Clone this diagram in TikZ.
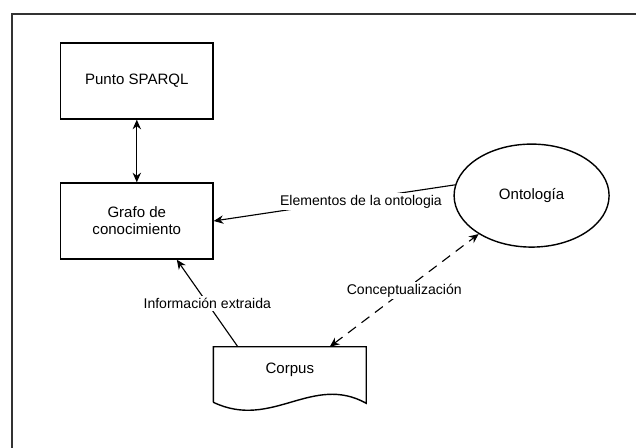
\documentclass[tikz,border=0pt]{standalone}
\usepackage{fontspec}
\setmainfont{Liberation Sans}
\usetikzlibrary{shapes.geometric,arrows.meta,calc}

\begin{document}
\begin{tikzpicture}[>={Stealth[length=2.4mm,width=2.1mm]}]
\tikzstyle{every node}=[font=\fontsize{10.7}{12}\selectfont]
\tikzstyle{box}=[draw, line width=1pt, minimum width=3.81cm, minimum height=1.9cm, align=center]
\tikzstyle{lbl}=[fill=white, inner sep=1.5pt, font=\fontsize{10}{12}\selectfont]
\tikzstyle{link}=[line width=0.8pt]
	\useasboundingbox (0,0) rectangle (15.9,11.2);
	\clip (0,0) rectangle (15.9,11.2);
	\draw[line width=1.4pt, black!80] (0.3,-1) rectangle (17,10.84);

	\node[box] (punto) at (3.42,9.175) {Punto SPARQL};
	\node[box] (grafo) at (3.42,5.675) {Grafo de\\conocimiento};
	\node[draw, ellipse, line width=1pt, minimum width=3.875cm, minimum height=2.575cm, inner sep=0] (onto) at (13.29,6.31) {Ontología};

	% documento con borde inferior ondulado
	\node[minimum width=3.81cm, minimum height=1.15cm, inner sep=0] (corpus) at (7.245,1.95) {Corpus};
	\draw[line width=1pt] ($(corpus.south west)+(0,-0.225)$) -- (corpus.north west) -- (corpus.north east) -- ($(corpus.south east)+(0,-0.25)$)
		.. controls ($(corpus.south)+(0.555,0.5)$) and ($(corpus.south)+(-0.445,-0.925)$) .. ($(corpus.south west)+(0,-0.225)$);

	\draw[link, <->] (punto) -- (grafo);
	\draw[link, ->] (onto.172) -- (grafo.east) node[lbl, pos=0.39, yshift=-2pt] {Elementos de la ontologia};
	\draw[link, ->] ($(corpus.north)+(-1.3,0)$) -- ($(grafo.south)+(1.0,0)$) node[lbl, midway] {Información extraida};
	\draw[link, <->, dash pattern=on 7pt off 5pt] ($(corpus.north)+(1.0,0)$) -- (onto.216) node[lbl, midway] {Conceptualización};
\end{tikzpicture}
\end{document}
